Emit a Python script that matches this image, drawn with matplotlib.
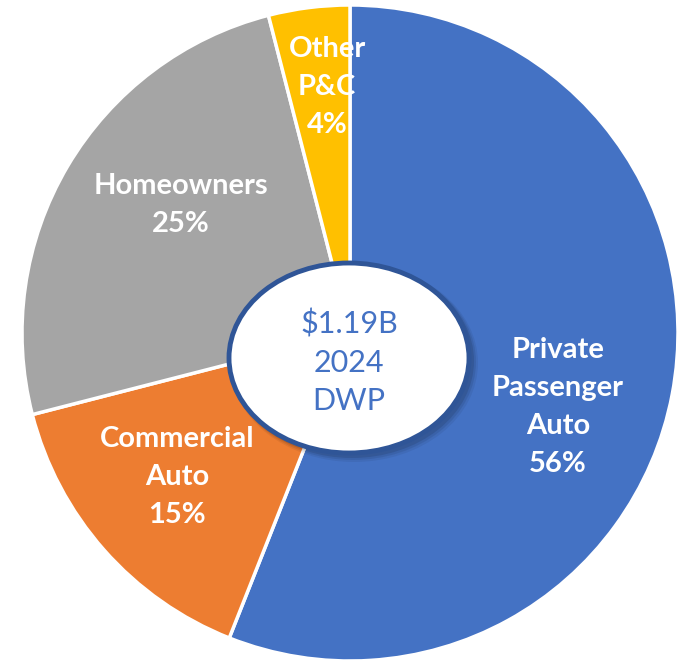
import matplotlib.pyplot as plt
from matplotlib.patches import Ellipse

# data
categories = ['Private\nPassenger\nAuto', 'Commercial\nAuto', 'Homeowners', 'Other\nP&C']
shares = [56, 15, 25, 4]
colors = ['#4472C4', '#ED7D31', '#A5A5A5', '#FFC000']
center_text = '$1.19B\n2024\nDWP'

plt.rcParams['font.family'] = ['Lato', 'DejaVu Sans']

W, H = 683, 661
fig = plt.figure(figsize=(W / 100, H / 100), dpi=100)
ax = fig.add_axes([0, 0, 1, 1])

cx, cy, r = 350, H - 333, 328
ax.pie(shares, colors=colors, startangle=90, counterclock=False,
       center=(cx, cy), radius=r, frame=True,
       wedgeprops=dict(edgecolor='white', linewidth=2.5))
ax.set_xlim(0, W)
ax.set_ylim(0, H)
ax.set_aspect('equal')
ax.axis('off')

# label positions (image pixels)
label_pos = [(558, 407), (177, 477), (181, 205), (327, 87)]
for name, val, (x, y) in zip(categories, shares, label_pos):
    ax.text(x, H - y, f'{name}\n{val}%', color='white', fontsize=21,
            fontweight='bold', ha='center', va='center', linespacing=1.56)

# center ellipse with soft shadow
ex, ey, ew, eh = 349, H - 358, 240, 190
for i, a in enumerate([0.06, 0.08, 0.10]):
    ax.add_patch(Ellipse((ex + 5 - i, ey - 5 + i), ew + 8 - 2 * i, eh + 8 - 2 * i,
                         facecolor='black', edgecolor='none', alpha=a))
ax.add_patch(Ellipse((ex, ey), ew, eh, facecolor='white',
                     edgecolor='#2F5597', linewidth=3.5))
ax.text(ex, H - 362, center_text, color='#4472C4', fontsize=22,
        ha='center', va='center', linespacing=1.45)

fig.savefig('out.png', dpi=100)
